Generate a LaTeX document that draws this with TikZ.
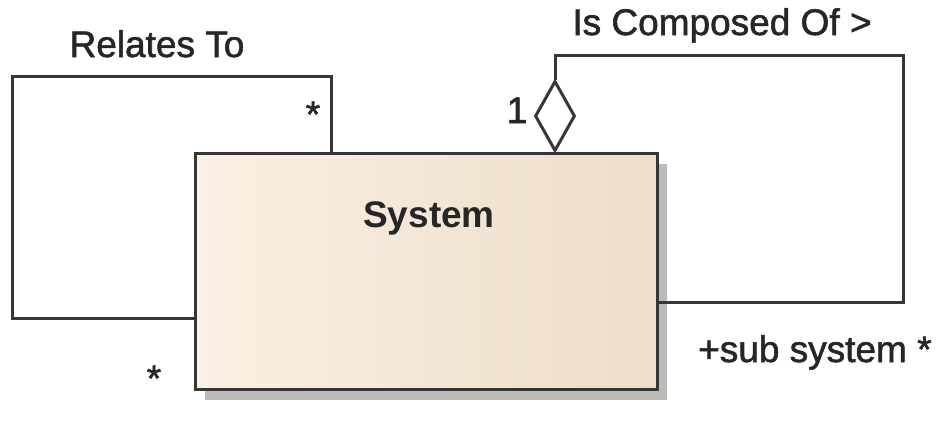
\documentclass[tikz,border=0pt]{standalone}
\usepackage{fontspec}
\setmainfont{Liberation Sans}
\newfontfamily\lblfont[FakeBold=1.5]{Liberation Sans}
\usetikzlibrary{shapes.geometric,shadows}
\definecolor{linec}{HTML}{363636}
\definecolor{textc}{HTML}{262626}
\definecolor{boxl}{HTML}{FBF0E3}
\definecolor{boxr}{HTML}{EDDDCA}
\definecolor{shadowc}{HTML}{BDBBB8}
\tikzset{
  conn/.style={draw=linec, line width=3pt},
  lbl/.style={text=textc, font=\lblfont\fontsize{37}{44}\selectfont, inner sep=0pt, anchor=base},
  classbox/.style={draw=linec, line width=3pt, rectangle, minimum width=462pt, minimum height=236pt,
    left color=boxl, right color=boxr, inner sep=0pt,
    drop shadow={shadow xshift=10pt, shadow yshift=-11pt, fill=shadowc, opacity=1}},
  aggr/.style={draw=linec, line width=3pt, diamond, fill=white, minimum width=40pt, minimum height=70pt, inner sep=0pt}
}
\begin{document}
\begin{tikzpicture}[x=1pt,y=-1pt]
\useasboundingbox[fill=white] (0,0) rectangle (936,421);
\coordinate (l1) at (12,318);
\coordinate (l2) at (331,76);
\coordinate (r1) at (903,55);
\coordinate (r2) at (903,302);
\node[aggr] (dia) at (555,116) {};
\node[classbox] (sys) at (426,271) {};
\draw[conn] (sys.west |- l1) -- (l1) |- (l2) -- (l2 |- sys.north);
\draw[conn] (dia.south) -- (dia.south |- sys.north);
\draw[conn] (dia.north) -- (dia.north |- r1) -- (r1) -- (r2) -- (sys.east |- r2);
\node[lbl, font=\fontsize{37}{44}\selectfont\bfseries] (name) at (429,227) {System};
\node[lbl] (t1) at (157,57) {Relates To};
\node[lbl] (t2) at (722,35) {Is Composed Of >};
\node[lbl] (m1) at (313,127) {*};
\node[lbl] (m2) at (154,391) {*};
\node[lbl] (m3) at (517,123) {1};
\node[lbl, anchor=base west] (m4) at (698,362) {+sub system *};
\end{tikzpicture}
\end{document}
